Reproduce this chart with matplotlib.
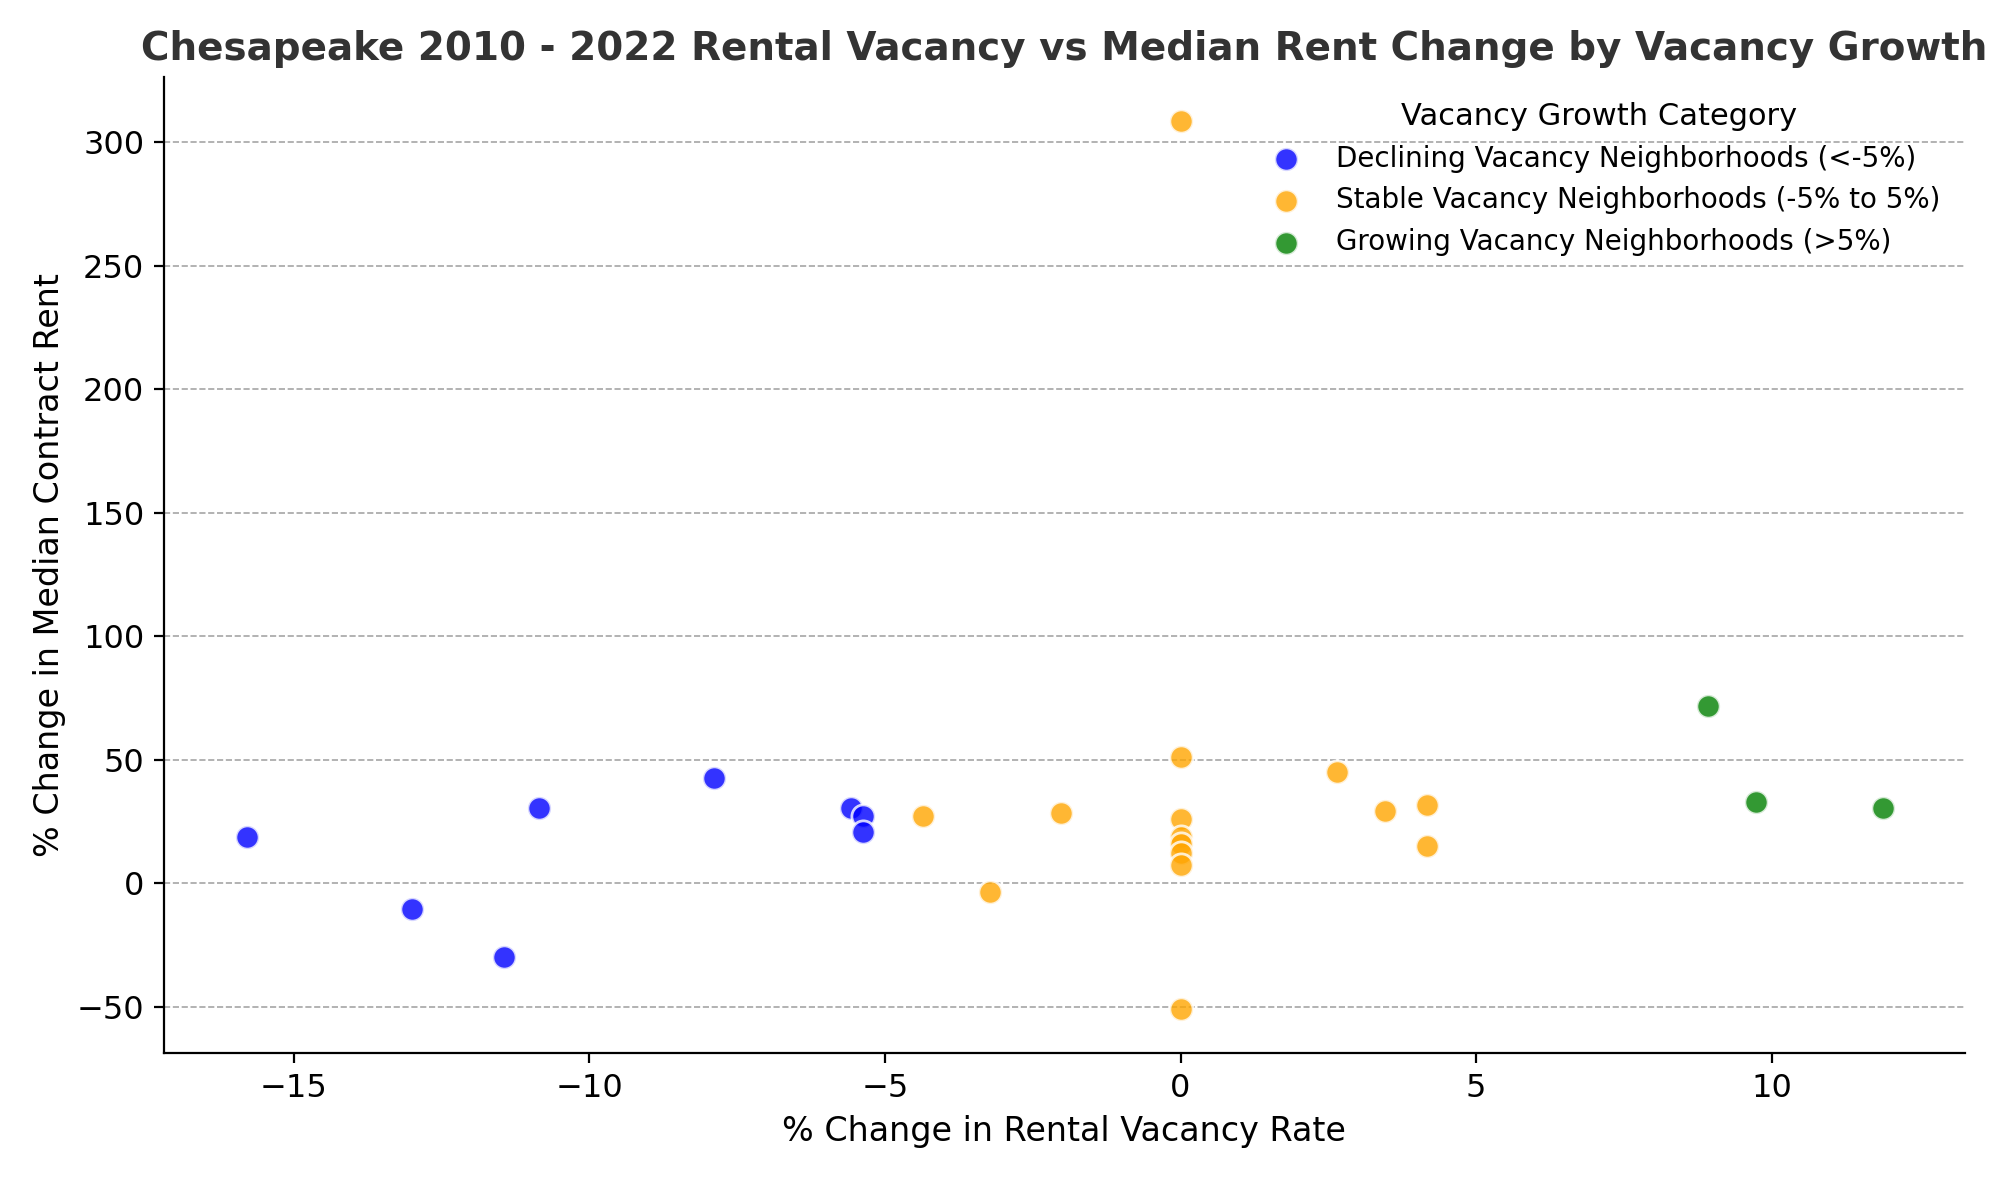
import matplotlib.pyplot as plt

# Declining vacancy (<-5%)
dec_x = [-15.8, -13.0, -11.45, -10.85, -7.9, -5.57, -5.37, -5.37]
dec_y = [18.5, -10.5, -30, 30.5, 42.5, 30.5, 27, 20.5]
# Stable vacancy (-5% to 5%)
sta_x = [0, 0, 0, 0, 0, 0, 0, 0, -4.36, -3.23, -2.03, 2.65, 3.46, 4.17, 4.17]
sta_y = [308.5, 51, 26, 18.5, 16, 12, 7.5, -51, 27, -3.5, 28.5, 45, 29, 31.5, 15]
# Growing vacancy (>5%)
gro_x = [8.93, 9.74, 11.88]
gro_y = [71.5, 33, 30.5]

fig, ax = plt.subplots(figsize=(9.975, 5.9))
kw = dict(s=70, alpha=0.8, edgecolors="white", linewidths=1, zorder=3)
ax.scatter(dec_x, dec_y, color="blue", label="Declining Vacancy Neighborhoods (<-5%)", **kw)
ax.scatter(sta_x, sta_y, color="orange", label="Stable Vacancy Neighborhoods (-5% to 5%)", **kw)
ax.scatter(gro_x, gro_y, color="green", label="Growing Vacancy Neighborhoods (>5%)", **kw)

ax.set_xlim(-17.2, 13.27)
ax.set_ylim(-69, 326.5)
ax.grid(axis="y", linestyle="--", color="gray", alpha=0.7, linewidth=0.6)
ax.spines["top"].set_visible(False)
ax.spines["right"].set_visible(False)
ax.set_title("Chesapeake 2010 - 2022 Rental Vacancy vs Median Rent Change by Vacancy Growth",
             fontsize=14, fontweight="bold", color="#333333")
ax.set_xlabel("% Change in Rental Vacancy Rate", fontsize=12)
ax.set_ylabel("% Change in Median Contract Rent", fontsize=12)
ax.tick_params(labelsize=11.5)
ax.legend(title="Vacancy Growth Category", frameon=False, fontsize=10, title_fontsize=11,
          loc="upper right")

plt.tight_layout()
plt.savefig("out.png", dpi=200)
